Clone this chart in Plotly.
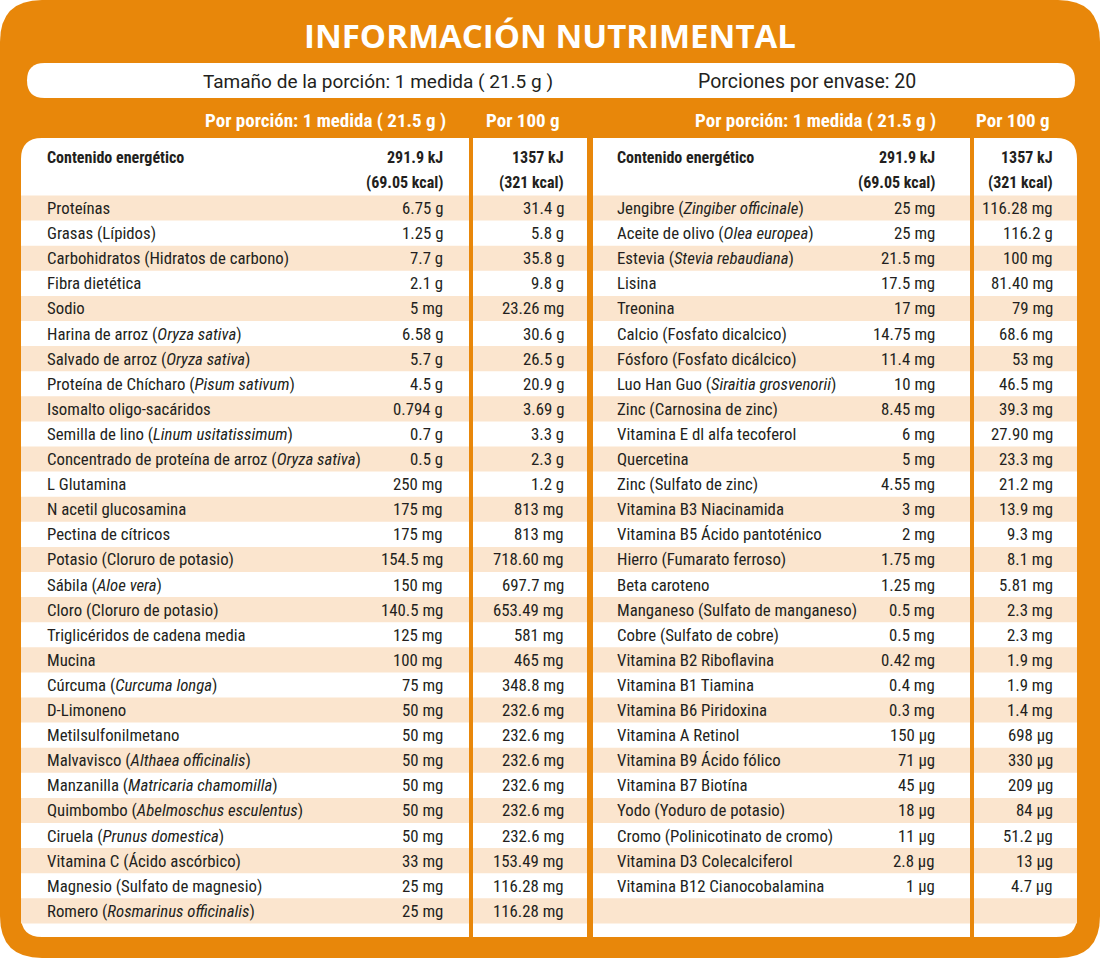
import plotly.graph_objects as go

# ---------------- data ----------------
title = "INFORMACIÓN NUTRIMENTAL"
serving_text = "Tamaño de la porción: 1 medida ( 21.5 g )"
servings_text = "Porciones por envase: 20"
col_head_portion = "Por porción: 1 medida ( 21.5 g )"
col_head_100 = "Por 100 g"
energy_label = "Contenido energético"
energy_portion = ["291.9 kJ", "(69.05 kcal)"]
energy_100 = ["1357 kJ", "(321 kcal)"]

left_names = [
    "Proteínas", "Grasas (Lípidos)", "Carbohidratos (Hidratos de carbono)", "Fibra dietética",
    "Sodio", "Harina de arroz (<i>Oryza sativa</i>)", "Salvado de arroz (<i>Oryza sativa</i>)",
    "Proteína de Chícharo (<i>Pisum sativum</i>)", "Isomalto oligo-sacáridos",
    "Semilla de lino (<i>Linum usitatissimum</i>)",
    "Concentrado de proteína de arroz (<i>Oryza sativa</i>)", "L Glutamina",
    "N acetil glucosamina", "Pectina de cítricos", "Potasio (Cloruro de potasio)",
    "Sábila (<i>Aloe vera</i>)", "Cloro (Cloruro de potasio)", "Triglicéridos de cadena media",
    "Mucina", "Cúrcuma (<i>Curcuma longa</i>)", "D-Limoneno", "Metilsulfonilmetano",
    "Malvavisco (<i>Althaea officinalis</i>)", "Manzanilla (<i>Matricaria chamomilla</i>)",
    "Quimbombo (<i>Abelmoschus esculentus</i>)", "Ciruela (<i>Prunus domestica</i>)",
    "Vitamina C (Ácido ascórbico)", "Magnesio (Sulfato de magnesio)",
    "Romero (<i>Rosmarinus officinalis</i>)",
]
left_portion = [
    "6.75 g", "1.25 g", "7.7 g", "2.1 g", "5 mg", "6.58 g", "5.7 g", "4.5 g", "0.794 g",
    "0.7 g", "0.5 g", "250 mg", "175 mg", "175 mg", "154.5 mg", "150 mg", "140.5 mg",
    "125 mg", "100 mg", "75 mg", "50 mg", "50 mg", "50 mg", "50 mg", "50 mg", "50 mg",
    "33 mg", "25 mg", "25 mg",
]
left_100g = [
    "31.4 g", "5.8 g", "35.8 g", "9.8 g", "23.26 mg", "30.6 g", "26.5 g", "20.9 g", "3.69 g",
    "3.3 g", "2.3 g", "1.2 g", "813 mg", "813 mg", "718.60 mg", "697.7 mg", "653.49 mg",
    "581 mg", "465 mg", "348.8 mg", "232.6 mg", "232.6 mg", "232.6 mg", "232.6 mg",
    "232.6 mg", "232.6 mg", "153.49 mg", "116.28 mg", "116.28 mg",
]

right_names = [
    "Jengibre (<i>Zingiber officinale</i>)", "Aceite de olivo (<i>Olea europea</i>)",
    "Estevia (<i>Stevia rebaudiana</i>)", "Lisina", "Treonina", "Calcio (Fosfato dicalcico)",
    "Fósforo (Fosfato dicálcico)", "Luo Han Guo (<i>Siraitia grosvenorii</i>)",
    "Zinc (Carnosina de zinc)", "Vitamina E dl alfa tecoferol", "Quercetina",
    "Zinc (Sulfato de zinc)", "Vitamina B3 Niacinamida", "Vitamina B5 Ácido pantoténico",
    "Hierro (Fumarato ferroso)", "Beta caroteno", "Manganeso (Sulfato de manganeso)",
    "Cobre (Sulfato de cobre)", "Vitamina B2 Riboflavina", "Vitamina B1 Tiamina",
    "Vitamina B6 Piridoxina", "Vitamina A Retinol", "Vitamina B9 Ácido fólico",
    "Vitamina B7 Biotína", "Yodo (Yoduro de potasio)", "Cromo (Polinicotinato de cromo)",
    "Vitamina D3 Colecalciferol", "Vitamina B12 Cianocobalamina",
]
right_portion = [
    "25 mg", "25 mg", "21.5 mg", "17.5 mg", "17 mg", "14.75 mg", "11.4 mg", "10 mg",
    "8.45 mg", "6 mg", "5 mg", "4.55 mg", "3 mg", "2 mg", "1.75 mg", "1.25 mg", "0.5 mg",
    "0.5 mg", "0.42 mg", "0.4 mg", "0.3 mg", "150 μg", "71 μg", "45 μg", "18 μg", "11 μg",
    "2.8 μg", "1 μg",
]
right_100g = [
    "116.28 mg", "116.2 g", "100 mg", "81.40 mg", "79 mg", "68.6 mg", "53 mg", "46.5 mg",
    "39.3 mg", "27.90 mg", "23.3 mg", "21.2 mg", "13.9 mg", "9.3 mg", "8.1 mg", "5.81 mg",
    "2.3 mg", "2.3 mg", "1.9 mg", "1.9 mg", "1.4 mg", "698 μg", "330 μg", "209 μg",
    "84 μg", "51.2 μg", "13 μg", "4.7 μg",
]

# ---------------- style / layout ----------------
W, H = 1100, 961
ORANGE = "#E8870A"
BEIGE = "#FBE5CE"
WHITE = "#FFFFFF"
INK = "#231F20"
BODY = "Roboto Condensed, Roboto, sans-serif"
SERVING_FONT = "Roboto, sans-serif"
TITLE_FONT = "Open Sans, sans-serif"
BODY_SIZE = 16.8
BOLD_SIZE = 16
HEAD_SIZE = 19

N_ROWS = 29
ROW_TOP = 195.5
ROW_H = 25.1
TABLE_TOP = 138
TABLE_BOT = 937

panels = {
    "left": dict(main=(21, 469), per100=(473, 587), name_x=46, portion_x=444, p100_x=565,
                 head_portion_x=325, head_100_x=523),
    "right": dict(main=(593, 970), per100=(974, 1077), name_x=616, portion_x=936, p100_x=1054,
                  head_portion_x=815, head_100_x=1013),
}


def rrect(x0, y0, x1, y1, tl=0, tr=0, br=0, bl=0):
    return (f"M {x0 + tl},{y0} L {x1 - tr},{y0} Q {x1},{y0} {x1},{y0 + tr} "
            f"L {x1},{y1 - br} Q {x1},{y1} {x1 - br},{y1} "
            f"L {x0 + bl},{y1} Q {x0},{y1} {x0},{y1 - bl} "
            f"L {x0},{y0 + tl} Q {x0},{y0} {x0 + tl},{y0} Z")


shapes = []


def add_path(path, color):
    shapes.append(dict(type="path", path=path, xref="x", yref="y",
                       fillcolor=color, line=dict(width=0), layer="above"))


def add_rect(x0, y0, x1, y1, color):
    shapes.append(dict(type="rect", x0=x0, x1=x1, y0=y0, y1=y1, xref="x", yref="y",
                       fillcolor=color, line=dict(width=0), layer="above"))


# background card
add_path(rrect(0, 0, W, 958, 42, 42, 42, 42), ORANGE)
# serving pill
add_path(rrect(27, 63, 1075, 98, 17.5, 17.5, 17.5, 17.5), WHITE)
# white panels
R = 21
add_path(rrect(21, TABLE_TOP, 469, TABLE_BOT, tl=R, bl=R), WHITE)
add_path(rrect(473, TABLE_TOP, 587, TABLE_BOT), WHITE)
add_path(rrect(593, TABLE_TOP, 970, TABLE_BOT), WHITE)
add_path(rrect(974, TABLE_TOP, 1077, TABLE_BOT, tr=R, br=R), WHITE)

# beige stripes (odd rows)
for i in range(0, N_ROWS, 2):
    y0 = ROW_TOP + i * ROW_H
    y1 = y0 + ROW_H
    for p in panels.values():
        add_rect(p["main"][0], y0, p["main"][1], y1, BEIGE)
        add_rect(p["per100"][0], y0, p["per100"][1], y1, BEIGE)

annotations = []


def txt(x, y, s, anchor="left", size=BODY_SIZE, color=INK, family=BODY, weight="normal"):
    annotations.append(dict(x=x, y=y, xref="x", yref="y", text=s, showarrow=False,
                            xanchor=anchor, yanchor="middle", borderpad=0,
                            font=dict(family=family, size=size, color=color, weight=weight)))


# title & serving
txt(550, 35, title, "center", size=33, color=WHITE, family=TITLE_FONT, weight=700)
txt(378, 81, serving_text, "center", size=19, family=SERVING_FONT)
txt(807, 81, servings_text, "center", size=19.5, family=SERVING_FONT)

for p in panels.values():
    txt(p["head_portion_x"], 120, "<b>" + col_head_portion + "</b>", "center",
        size=HEAD_SIZE, color=WHITE)
    txt(p["head_100_x"], 120, "<b>" + col_head_100 + "</b>", "center",
        size=HEAD_SIZE, color=WHITE)
    txt(p["name_x"], 157, "<b>" + energy_label + "</b>", "left", size=BOLD_SIZE)
    for k, yy in enumerate([157, 182]):
        txt(p["portion_x"], yy, "<b>" + energy_portion[k] + "</b>", "right", size=BOLD_SIZE)
        txt(p["p100_x"], yy, "<b>" + energy_100[k] + "</b>", "right", size=BOLD_SIZE)

for key, names, por, p100 in [("left", left_names, left_portion, left_100g),
                              ("right", right_names, right_portion, right_100g)]:
    p = panels[key]
    for i, (n, a, b) in enumerate(zip(names, por, p100)):
        yc = ROW_TOP + (i + 0.5) * ROW_H
        txt(p["name_x"], yc, n, "left")
        txt(p["portion_x"], yc, a, "right")
        txt(p["p100_x"], yc, b, "right")

fig = go.Figure()
fig.add_trace(go.Scatter(x=[0, W], y=[0, H], mode="markers", marker=dict(opacity=0),
                         hoverinfo="skip", showlegend=False))
fig.update_layout(
    width=W, height=H, autosize=False,
    margin=dict(l=0, r=0, t=0, b=0, pad=0),
    paper_bgcolor=WHITE, plot_bgcolor=WHITE,
    xaxis=dict(range=[0, W], visible=False, fixedrange=True),
    yaxis=dict(range=[H, 0], visible=False, fixedrange=True),
    shapes=shapes, annotations=annotations, showlegend=False,
)
fig.write_html("out.html", config=dict(displayModeBar=False),
               post_script="document.body.style.margin='0';document.body.style.overflow='hidden';")
